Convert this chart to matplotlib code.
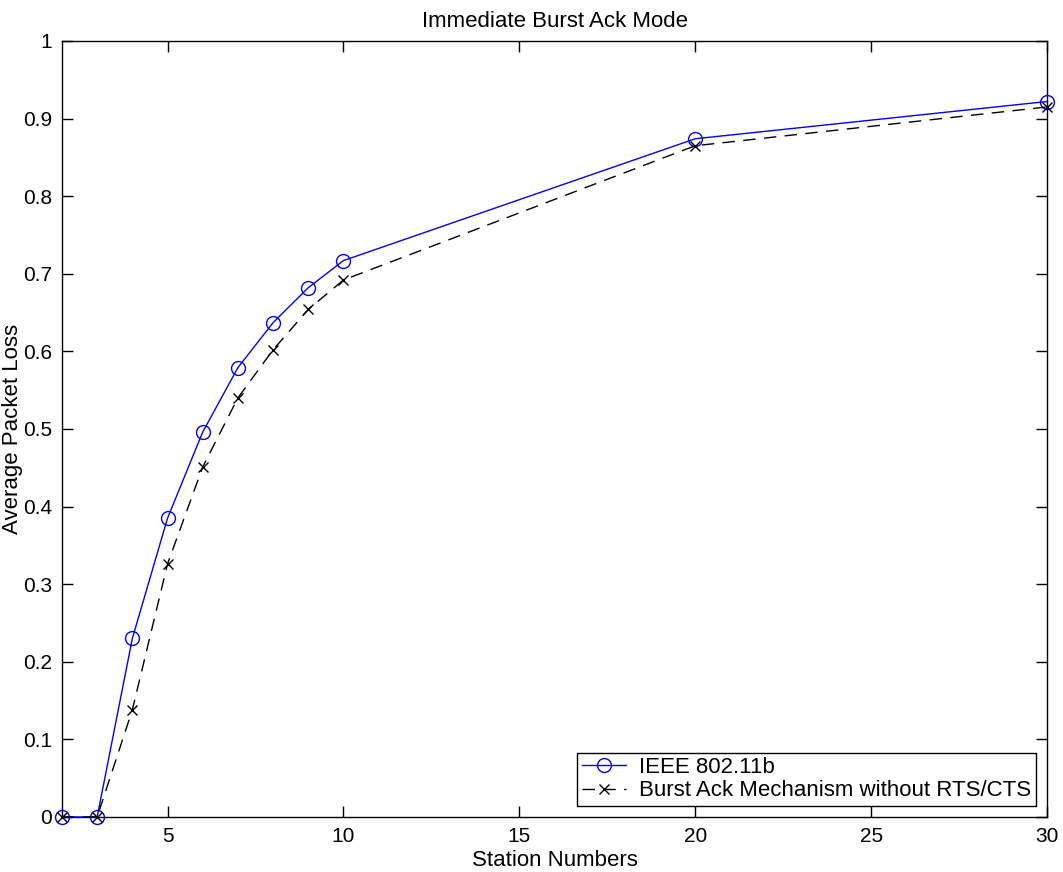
import matplotlib
matplotlib.use("Agg")
import matplotlib.pyplot as plt
import matplotlib.ticker as ticker

# ── Data ──────────────────────────────────────────────────────────────────────
stations = [2, 3, 4, 5, 6, 7, 8, 9, 10, 20, 30]
loss_80211b = [0.0, 0.0, 0.230, 0.385, 0.496, 0.579, 0.637, 0.682, 0.717, 0.874, 0.922]
loss_burst = [0.0, 0.0, 0.138, 0.326, 0.451, 0.540, 0.602, 0.654, 0.692, 0.865, 0.915]

plt.rcParams["font.family"] = ["Liberation Sans", "DejaVu Sans"]

fig = plt.figure(figsize=(10.63, 8.72), dpi=100)
ax = fig.add_axes([0.0583, 0.0631, 0.9267, 0.8899])

ax.plot(stations, loss_80211b, "-o", color="#0000ff", linewidth=1.0,
        markersize=10, markerfacecolor="none", markeredgewidth=1.0,
        clip_on=False, zorder=3, label="IEEE 802.11b")
ax.plot(stations, loss_burst, "--x", color="#000000", linewidth=1.0,
        markersize=7, markeredgewidth=1.0, dashes=(9, 6),
        clip_on=False, zorder=3, label="Burst Ack Mechanism without RTS/CTS")

ax.set_xlim(2, 30)
ax.set_ylim(0, 1)
ax.xaxis.set_major_locator(ticker.FixedLocator([5, 10, 15, 20, 25, 30]))
ax.yaxis.set_major_locator(ticker.MultipleLocator(0.1))
ax.yaxis.set_major_formatter(ticker.FuncFormatter(lambda v, p: f"{v:g}"))
ax.tick_params(direction="in", length=8, width=1, labelsize=15,
               top=True, right=True, pad=7)
for s in ax.spines.values():
    s.set_linewidth(1.0)

ax.set_xlabel("Station Numbers", fontsize=16, labelpad=3)
ax.set_ylabel("Average Packet Loss", fontsize=16, labelpad=0)
ax.set_title("Immediate Burst Ack Mode", fontsize=16, pad=10)

leg = ax.legend(loc="lower right", fontsize=16, fancybox=False,
                edgecolor="black", framealpha=1, borderaxespad=0.5,
                handlelength=2.0, handletextpad=0.6, borderpad=0.2,
                labelspacing=0.1)
leg.get_frame().set_linewidth(1.0)
leg.set_zorder(5)

fig.savefig("out.png", dpi=100)
